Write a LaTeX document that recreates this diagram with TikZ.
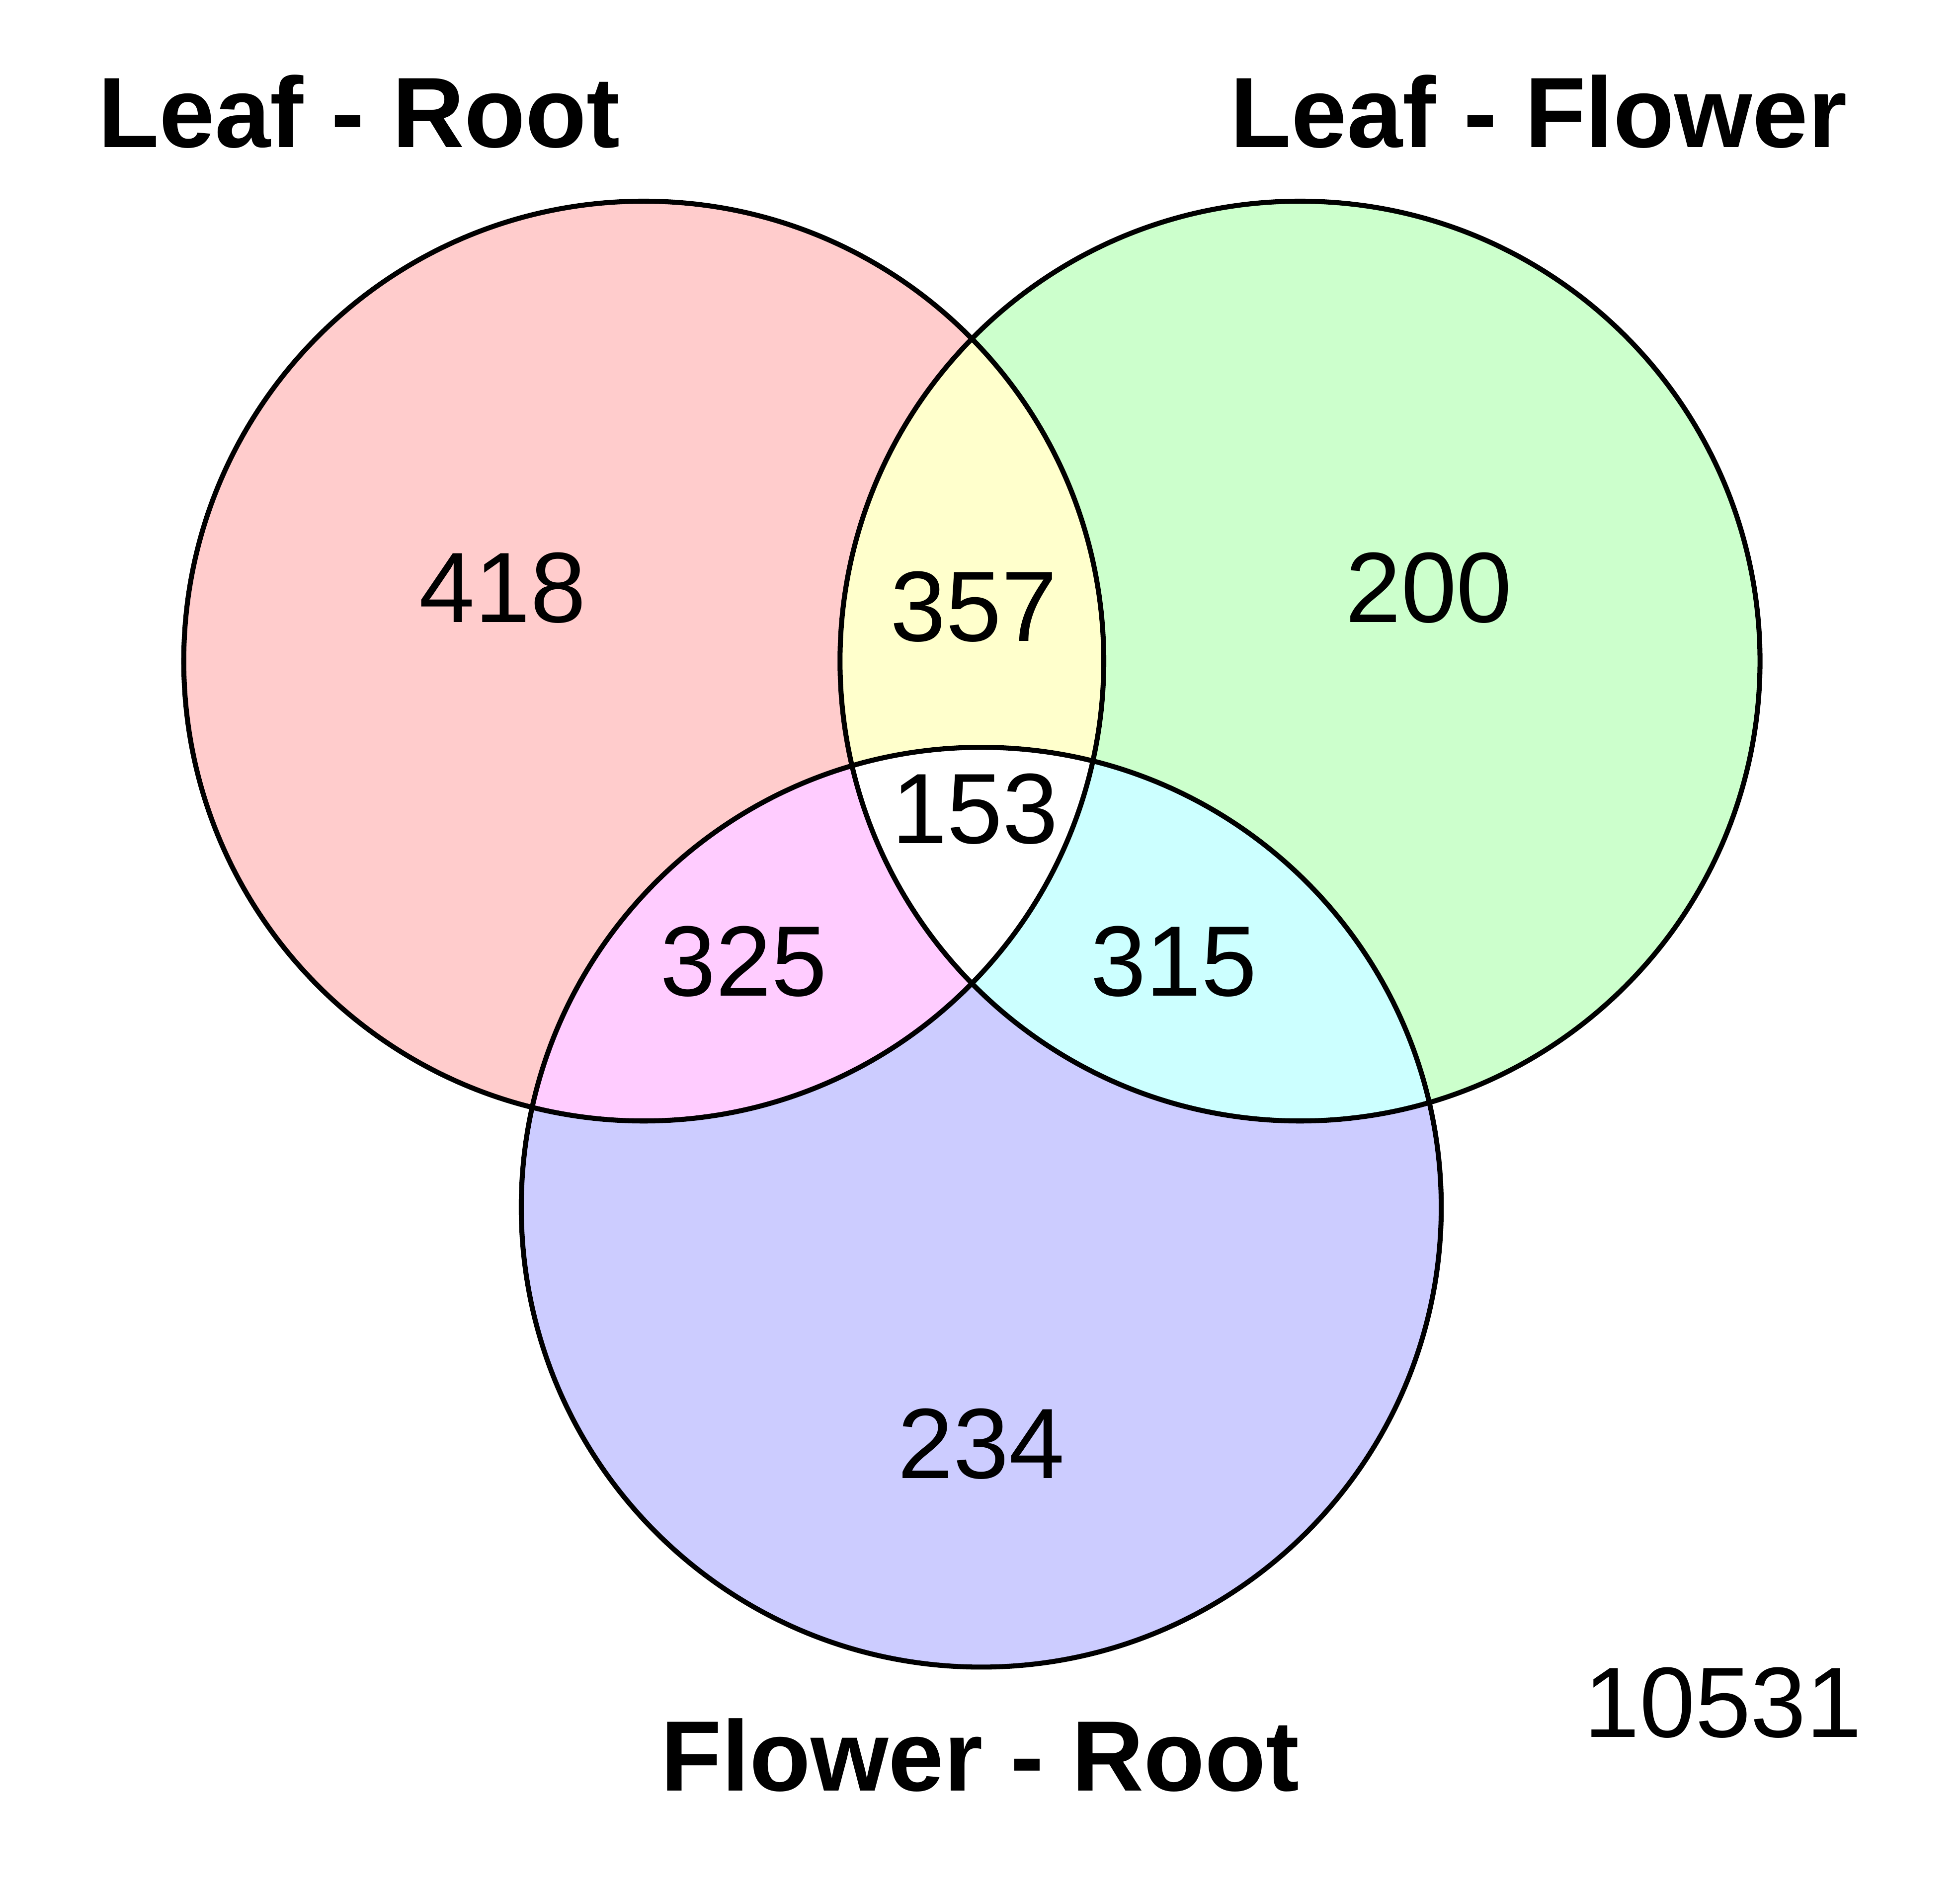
\documentclass[tikz,border=0pt]{standalone}
\usepackage{fontspec}
\setmainfont{Liberation Sans}
\definecolor{cA}{HTML}{FFCCCC}
\definecolor{cB}{HTML}{CCFFCC}
\definecolor{cC}{HTML}{CCCCFF}
\definecolor{cAB}{HTML}{FFFFCC}
\definecolor{cAC}{HTML}{FFCCFF}
\definecolor{cBC}{HTML}{CCFFFF}
\begin{document}
\begin{tikzpicture}[x=0.5pt,y=-0.5pt,
  num/.style={inner sep=0pt,font=\fontsize{40}{44}\selectfont,anchor=base},
  title/.style={inner sep=0pt,font=\fontsize{40}{44}\selectfont\bfseries},
  ring/.style={line width=2pt,draw=black}]
\useasboundingbox[fill=white] (0,0) rectangle (1568,1504);
\def\rr{368}
\coordinate (A) at (515,529);
\coordinate (B) at (1040,529);
\coordinate (C) at (785,966);
% single fills
\fill[cA] (A) circle[radius=\rr];
\fill[cB] (B) circle[radius=\rr];
\fill[cC] (C) circle[radius=\rr];
% pairwise
\begin{scope}
  \clip (A) circle[radius=\rr];
  \fill[cAB] (B) circle[radius=\rr];
  \fill[cAC] (C) circle[radius=\rr];
\end{scope}
\begin{scope}
  \clip (B) circle[radius=\rr];
  \fill[cBC] (C) circle[radius=\rr];
\end{scope}
\begin{scope}
  \clip (A) circle[radius=\rr];
  \clip (B) circle[radius=\rr];
  \fill[white] (C) circle[radius=\rr];
\end{scope}
% outlines
\draw[ring] (A) circle[radius=\rr];
\draw[ring] (B) circle[radius=\rr];
\draw[ring] (C) circle[radius=\rr];
% numbers
\node[num] (n418) at (402,498) {418};
\node[num] (n357) at (779,513) {357};
\node[num] (n200) at (1143,498) {200};
\node[num] (n153) at (780,675) {153};
\node[num] (n325) at (595,797) {325};
\node[num] (n315) at (939,797) {315};
\node[num] (n234) at (785,1183) {234};
\node[num,anchor=base east] (n10531) at (1490,1390) {10531};
% titles
\node[title,anchor=base west] (tA) at (78,118) {Leaf - Root};
\node[title,anchor=base east] (tB) at (1478,118) {Leaf - Flower};
\node[title,anchor=base] (tC) at (784,1433) {Flower - Root};
\end{tikzpicture}
\end{document}
